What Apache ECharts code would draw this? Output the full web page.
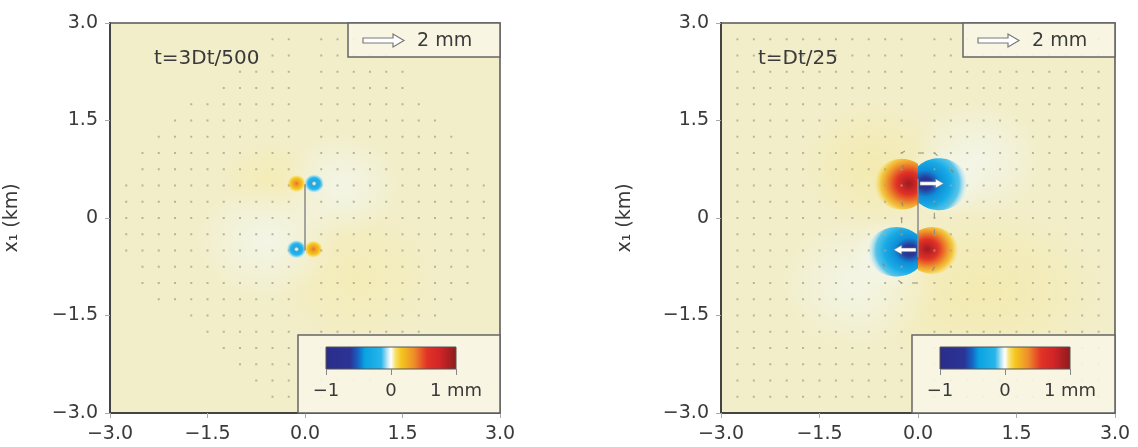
<!DOCTYPE html>
<html>
<head>
<meta charset="utf-8">
<script src="https://cdn.jsdelivr.net/npm/echarts@6/dist/echarts.min.js"></script>
<style>html,body{margin:0;padding:0;background:#fff}#c{width:1138px;height:447px}</style>
</head>
<body>
<div id="c"></div>
<script>
// ================= DATA =================
const axisTicks = [-3, -1.5, 0, 1.5, 3];
const xTickLabels = ['−3.0', '−1.5', '0.0', '1.5', '3.0'];
const yTickLabels = ['−3.0', '−1.5', '0', '1.5', '3.0'];
const yAxisName = 'x₁ (km)';
const panelTitles = ['t=3Dt/500', 't=Dt/25'];
const colorbarTicks = [-1, 0, 1];
const colorbarLabels = ['−1', '0', '1 mm'];
const scaleArrowLabel = '2 mm';
const faultX = 0;

// displacement-vector sampling lattice (km)
const rowsY = [2.75, 2.5, 2.25, 2, 1.75, 1.5, 1.25, 1, 0.75, 0.5, 0.25, 0, -0.25, -0.5, -0.75, -1, -1.25, -1.5, -1.75, -2, -2.25, -2.5, -2.75];
const colsX = [-2.75, -2.5, -2.25, -2, -1.75, -1.5, -1.25, -1, -0.75, -0.5, -0.25, 0, 0.25, 0.5, 0.75, 1, 1.25, 1.5, 1.75, 2, 2.25, 2.5, 2.75];
// visible vector marks per row (left panel), [xmin, xmax]
const leftDotExtent = [
  [-0.5, 0.75], [-0.75, 1.25], [-1.0, 1.5], [-1.25, 1.5], [-1.75, 1.75], [-2.0, 2.0],
  [-2.25, 2.25], [-2.5, 2.5], [-2.5, 2.5], [-2.75, 2.75], [-2.75, 2.75], [-2.75, 2.75],
  [-2.75, 2.75], [-2.75, 2.75], [-2.5, 2.5], [-2.5, 2.5], [-2.25, 2.25], [-1.75, 2.0],
  [-1.5, 1.75], [-1.25, 1.5], [-1.0, 1.25], [-0.75, 1.0], [-0.5, 0.5]
];
const rightDotSpan = [-2.75, 2.75];

// displacement lobes: [discX, discY, radiusX, radiusY, side(-1 left of fault, 1 right, 0 none), peak (mm), coreX, coreY]
const leftLobes = [
  [-0.13, 0.53, 0.15, 0.14, -1, 0.42, -0.13, 0.53],
  [0.14, 0.53, 0.16, 0.15, 1, -0.42, 0.14, 0.53],
  [-0.13, -0.48, 0.16, 0.15, -1, -0.42, -0.13, -0.48],
  [0.13, -0.48, 0.15, 0.14, 1, 0.42, 0.13, -0.48]
];
const rightLobes = [
  [-0.25, 0.52, 0.42, 0.39, -1, 0.95, -0.14, 0.53],
  [0.32, 0.52, 0.44, 0.40, 1, -0.72, 0.11, 0.53],
  [-0.33, -0.52, 0.44, 0.38, -1, -0.72, -0.13, -0.50],
  [0.22, -0.50, 0.40, 0.36, 1, 0.95, 0.14, -0.48]
];
// broad, weak parts of the field: [x, y, rx, ry, side, value, x, y]
const leftWarmHalos = [
  [0.8, -0.9, 1.3, 1.1, 0, 0.05, 0.8, -0.9],
  [-0.55, 0.6, 0.8, 0.6, 0, 0.05, -0.55, 0.6]
];
const leftPaleHalos = [
  [-0.6, -0.35, 1.1, 0.9, 0, -0.01, -0.6, -0.35],
  [0.55, 0.5, 0.9, 0.8, 0, -0.01, 0.55, 0.5]
];
const rightWarmHalos = [
  [-0.7, 0.8, 1.1, 1.0, 0, 0.06, -0.7, 0.8],
  [1.0, -1.1, 1.9, 1.3, 0, 0.06, 1.0, -1.1]
];
const rightPaleHalos = [
  [-0.9, -1.0, 1.2, 1.0, 0, -0.01, -0.9, -1.0],
  [0.9, 0.9, 1.0, 0.9, 0, -0.01, 0.9, 0.9],
  [0.4, 0.55, 0.62, 0.55, 0, -0.01, 0.4, 0.55],
  [-0.4, -0.55, 0.62, 0.55, 0, -0.01, -0.4, -0.55]
];
const leftFault = [[0, 0.52], [0, -0.5]];
const rightFault = [[0, 0.6], [0, -0.6]];
const leftSourceMarks = [[0.14, 0.53], [-0.13, -0.48]];
// large vectors [x, y, dx, dy] (km on the map)
const rightBigArrows = [[0.03, 0.53, 0.36, 0], [-0.03, -0.49, -0.34, 0]];
// short vectors near the fault [x, y, dx, dy]
const rightSmallArrows = [
  [0, 1.0, 0.09, 0], [0.25, 1.0, 0.05, -0.04], [-0.25, 1.0, 0.05, 0.03], [-0.25, 0.75, 0.03, 0.06],
  [0.5, 0.75, 0.04, -0.05], [-0.25, 0.25, 0.02, -0.07], [0.25, 0.25, 0.03, -0.07],
  [-0.25, 0, 0, -0.08], [0.25, 0, 0, 0.08], [-0.25, -0.25, -0.02, 0.07], [0.25, -0.25, 0, 0.08],
  [-0.5, -0.75, -0.04, 0.05], [0, -1.0, -0.09, 0], [0.25, -0.75, -0.03, -0.06], [-0.25, -1.0, -0.05, 0.04]
];

// ================= STYLE HELPERS =================
const FONT = 'DejaVu Sans';
const TEXT = '#3a3a3a';
const BG = '#f2eec9';
const cmapStops = [
  [-1.0, '#2a2c8a'], [-0.62, '#2b3495'], [-0.5, '#1565c4'], [-0.4, '#0aa2e2'],
  [-0.15, '#27b5ea'], [-0.04, '#d4eef6'], [0.0, '#ffffff'], [0.06, '#f8e27a'],
  [0.15, '#f4c81e'], [0.35, '#ee8e2a'], [0.55, '#e23326'], [0.75, '#d02428'], [1.0, '#8a1c1c']
];
function hex(h) { return [parseInt(h.slice(1, 3), 16), parseInt(h.slice(3, 5), 16), parseInt(h.slice(5, 7), 16)]; }
function cmap(v) {
  v = Math.max(-1, Math.min(1, v));
  for (let i = 1; i < cmapStops.length; i++) {
    if (v <= cmapStops[i][0]) {
      const [v0, c0] = cmapStops[i - 1], [v1, c1] = cmapStops[i];
      const t = (v - v0) / (v1 - v0), a = hex(c0), b = hex(c1);
      return a.map((x, k) => Math.round(x + (b[k] - x) * t));
    }
  }
  return hex(cmapStops[cmapStops.length - 1][1]);
}
function rgba(c, a) { return 'rgba(' + c[0] + ',' + c[1] + ',' + c[2] + ',' + a + ')'; }

const lobeProfile = [[0, 1, 1], [0.15, 0.85, 1], [0.35, 0.6, 1], [0.6, 0.38, 1], [0.8, 0.2, 0.8], [0.92, 0.1, 0.4], [1, 0.05, 0]];
const warmProfile = [[0, 1, 0.3], [0.5, 1, 0.18], [1, 1, 0]];
const paleProfile = [[0, 1, 0.55], [0.5, 1, 0.3], [1, 1, 0]];

function lobeRenderer(profile) {
  return function (params, api) {
    const cx = api.value(0), cy = api.value(1), rx = api.value(2), ry = api.value(3);
    const side = api.value(4), val = api.value(5), kx = api.value(6), ky = api.value(7);
    const c = api.coord([cx, cy]);
    const u = api.size([1, 1]);
    const R = rx * u[0];
    const s = (ry * u[1]) / R;
    const f = api.coord([faultX, cy])[0];
    let a0 = 0, a1 = 2 * Math.PI;
    if (side !== 0) {
      const k = Math.max(-1, Math.min(1, (f - c[0]) / R));
      const th = Math.acos(k);
      if (side < 0) { a0 = th; a1 = 2 * Math.PI - th; } else { a0 = -th; a1 = th; }
    }
    const pts = [];
    const N = 80;
    for (let i = 0; i <= N; i++) {
      const a = a0 + (a1 - a0) * i / N;
      pts.push([c[0] + R * Math.cos(a), c[1] + R * Math.sin(a)]);
    }
    const g = api.coord([kx, ky]);
    const gx = g[0], gy = c[1] + (g[1] - c[1]) / s;
    let gr = 1;
    pts.forEach(p => { gr = Math.max(gr, Math.hypot(p[0] - gx, p[1] - gy)); });
    const stops = profile.map(st => ({ offset: st[0], color: rgba(cmap(val * st[1]), st[2]) }));
    return {
      type: 'polygon', shape: { points: pts },
      originX: c[0], originY: c[1], scaleY: s,
      style: { fill: new echarts.graphic.RadialGradient(gx, gy, gr, stops, true) }
    };
  };
}
function bigArrowRenderer(params, api) {
  const p0 = api.coord([api.value(0), api.value(1)]);
  const p1 = api.coord([api.value(0) + api.value(2), api.value(1) + api.value(3)]);
  const dx = p1[0] - p0[0], dy = p1[1] - p0[1], L = Math.hypot(dx, dy);
  const ux = dx / L, uy = dy / L, nx = -uy, ny = ux;
  const hw = 1.8, hl = 8, hh = 4.5;
  const P = (a, b) => [p0[0] + ux * a + nx * b, p0[1] + uy * a + ny * b];
  return {
    type: 'polygon',
    shape: { points: [P(0, -hw), P(L - hl, -hw), P(L - hl, -hh), P(L, 0), P(L - hl, hh), P(L - hl, hw), P(0, hw)] },
    style: { fill: '#ffffff', stroke: 'rgba(120,120,120,0.7)', lineWidth: 0.8 }
  };
}
function smallArrowRenderer(params, api) {
  const p0 = api.coord([api.value(0), api.value(1)]);
  const p1 = api.coord([api.value(0) + api.value(2), api.value(1) + api.value(3)]);
  return { type: 'line', shape: { x1: p0[0], y1: p0[1], x2: p1[0], y2: p1[1] }, style: { stroke: 'rgba(130,130,118,0.75)', lineWidth: 1.2 } };
}
function colorbarRenderer(params, api) {
  const a = api.coord([colorbarTicks[0], 1]);
  const b = api.coord([colorbarTicks[colorbarTicks.length - 1], 0]);
  const stops = cmapStops.map(([v, c]) => ({ offset: (v + 1) / 2, color: c }));
  return {
    type: 'rect', shape: { x: a[0], y: a[1], width: b[0] - a[0], height: b[1] - a[1] },
    style: { fill: new echarts.graphic.LinearGradient(0, 0, 1, 0, stops), stroke: '#555', lineWidth: 1 }
  };
}
function buildDots(extents) {
  const out = [];
  rowsY.forEach((y, i) => {
    const e = extents[i];
    colsX.forEach(x => { if (x >= e[0] - 1e-9 && x <= e[1] + 1e-9 && x !== faultX) out.push([x, y]); });
  });
  return out;
}
function tickFmt(labels) {
  return v => { const i = axisTicks.findIndex(t => Math.abs(t - v) < 1e-6); return i >= 0 ? labels[i] : ''; };
}

// ================= CHART =================
const chart = echarts.init(document.getElementById('c'), null, { renderer: 'canvas' });
const plots = [
  { left: 110, top: 23, width: 390, height: 390, nameGap: 88 },
  { left: 721, top: 23, width: 394, height: 390, nameGap: 86 }
];
const grids = plots.map(p => ({
  left: p.left, top: p.top, width: p.width, height: p.height, show: true,
  backgroundColor: BG, borderColor: '#555', borderWidth: 1.5, outerBoundsMode: 'none', containLabel: false
}));
grids.push({ left: 326, top: 347, width: 130, height: 22, z: 12, outerBoundsMode: 'none' });
grids.push({ left: 940, top: 347, width: 130, height: 22, z: 12, outerBoundsMode: 'none' });

const labelStyle = { fontFamily: FONT, fontSize: 19, color: TEXT };
const xAxes = plots.map((p, i) => ({
  gridIndex: i, type: 'value', min: -3, max: 3, interval: 1.5,
  axisLine: { show: true, onZero: false, lineStyle: { color: '#444', width: 2 } },
  axisTick: { show: true, length: 5, lineStyle: { color: '#aaa' } },
  splitLine: { show: false },
  axisLabel: Object.assign({ margin: 12, showMinLabel: true, showMaxLabel: true, hideOverlap: false, formatter: tickFmt(xTickLabels) }, labelStyle)
}));
const yAxes = plots.map((p, i) => ({
  gridIndex: i, type: 'value', min: -3, max: 3, interval: 1.5,
  name: yAxisName, nameLocation: 'middle', nameGap: p.nameGap, nameRotate: 90,
  nameTextStyle: { fontFamily: FONT, fontSize: 19, color: TEXT },
  axisLine: { show: true, onZero: false, lineStyle: { color: '#444', width: 2 } },
  axisTick: { show: true, length: 5, lineStyle: { color: '#aaa' } },
  splitLine: { show: false },
  axisLabel: Object.assign({ margin: 12, showMinLabel: true, showMaxLabel: true, hideOverlap: false, formatter: tickFmt(yTickLabels) }, labelStyle)
}));
[2, 3].forEach(g => {
  xAxes.push({
    gridIndex: g, type: 'value', min: colorbarTicks[0], max: colorbarTicks[colorbarTicks.length - 1], interval: 1, z: 12,
    axisLine: { show: false }, axisTick: { show: true, length: 6, lineStyle: { color: '#888' } },
    splitLine: { show: false },
    axisLabel: {
      margin: 13, fontFamily: FONT, fontSize: 18, color: TEXT, showMinLabel: true, showMaxLabel: true, hideOverlap: false,
      formatter: v => { const i = colorbarTicks.indexOf(v); return i >= 0 ? colorbarLabels[i] : ''; }
    }
  });
  yAxes.push({ gridIndex: g, type: 'value', min: 0, max: 1, show: false });
});

function panelSeries(i, warm, pale, lobes, dots, fault) {
  return [
    { type: 'custom', xAxisIndex: i, yAxisIndex: i, z: 1, silent: true, clip: true, renderItem: lobeRenderer(warmProfile), data: warm },
    { type: 'custom', xAxisIndex: i, yAxisIndex: i, z: 1, silent: true, clip: true, renderItem: lobeRenderer(paleProfile), data: pale },
    { type: 'custom', xAxisIndex: i, yAxisIndex: i, z: 2, silent: true, clip: true, renderItem: lobeRenderer(lobeProfile), data: lobes },
    { type: 'scatter', xAxisIndex: i, yAxisIndex: i, z: 3, silent: true, symbol: 'rect', symbolSize: 2, itemStyle: { color: '#a8a693' }, data: dots },
    { type: 'line', xAxisIndex: i, yAxisIndex: i, z: 4, silent: true, showSymbol: false, symbol: 'none', lineStyle: { color: '#8a8a8a', width: 1.5 }, data: fault }
  ];
}
const series = []
  .concat(panelSeries(0, leftWarmHalos, leftPaleHalos, leftLobes, buildDots(leftDotExtent), leftFault))
  .concat(panelSeries(1, rightWarmHalos, rightPaleHalos, rightLobes, buildDots(rowsY.map(() => rightDotSpan)), rightFault));
series.push({ type: 'scatter', xAxisIndex: 0, yAxisIndex: 0, z: 5, silent: true, symbol: 'circle', symbolSize: 4, itemStyle: { color: '#ffffff', borderColor: '#999', borderWidth: 0.8 }, data: leftSourceMarks });
series.push({ type: 'custom', xAxisIndex: 1, yAxisIndex: 1, z: 4, silent: true, renderItem: smallArrowRenderer, data: rightSmallArrows });
series.push({ type: 'custom', xAxisIndex: 1, yAxisIndex: 1, z: 5, silent: true, renderItem: bigArrowRenderer, data: rightBigArrows });
series.push({ type: 'custom', xAxisIndex: 2, yAxisIndex: 2, z: 12, silent: true, renderItem: colorbarRenderer, data: [[0, 0]] });
series.push({ type: 'custom', xAxisIndex: 3, yAxisIndex: 3, z: 12, silent: true, renderItem: colorbarRenderer, data: [[0, 0]] });

// legend boxes, scale arrows and titles (layout)
const boxStyle = { fill: 'rgba(248,247,230,0.88)', stroke: '#666', lineWidth: 1.5 };
function scaleArrow(x0, y) {
  return {
    type: 'polygon', z: 11,
    shape: { points: [[x0, y - 2.5], [x0 + 30, y - 2.5], [x0 + 30, y - 6.5], [x0 + 41, y], [x0 + 30, y + 6.5], [x0 + 30, y + 2.5], [x0, y + 2.5]] },
    style: { fill: '#ffffff', stroke: '#7a7a7a', lineWidth: 1.2 }
  };
}
const graphic = [
  { type: 'rect', z: 10, shape: { x: 348, y: 23, width: 152, height: 34 }, style: boxStyle },
  { type: 'rect', z: 10, shape: { x: 963, y: 23, width: 152, height: 34 }, style: boxStyle },
  { type: 'rect', z: 10, shape: { x: 298, y: 335, width: 202, height: 78 }, style: boxStyle },
  { type: 'rect', z: 10, shape: { x: 912, y: 335, width: 203, height: 78 }, style: boxStyle },
  scaleArrow(363, 40.5), scaleArrow(978, 40.5),
  { type: 'text', z: 11, x: 417, y: 41, style: { text: scaleArrowLabel, fontFamily: FONT, fontSize: 19, fill: TEXT, verticalAlign: 'middle' } },
  { type: 'text', z: 11, x: 1032, y: 41, style: { text: scaleArrowLabel, fontFamily: FONT, fontSize: 19, fill: TEXT, verticalAlign: 'middle' } },
  { type: 'text', z: 11, x: 154, y: 59, style: { text: panelTitles[0], fontFamily: FONT, fontSize: 20, fill: TEXT, verticalAlign: 'middle' } },
  { type: 'text', z: 11, x: 758, y: 59, style: { text: panelTitles[1], fontFamily: FONT, fontSize: 20, fill: TEXT, verticalAlign: 'middle' } }
];

chart.setOption({
  animation: false,
  backgroundColor: '#ffffff',
  grid: grids,
  xAxis: xAxes,
  yAxis: yAxes,
  series: series,
  graphic: graphic
});
</script>
</body>
</html>
